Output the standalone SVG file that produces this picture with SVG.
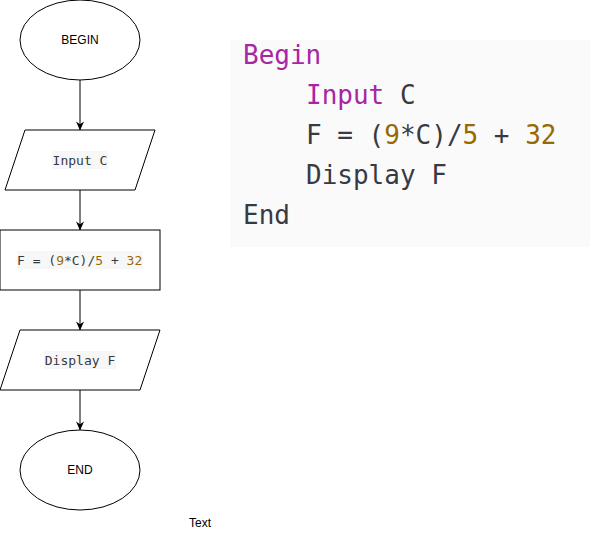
<svg xmlns="http://www.w3.org/2000/svg" width="592" height="556" viewBox="0 0 592 556">
<style>
.shape{fill:#fff;stroke:#000;stroke-width:1}
.lbl{font-family:"Liberation Sans",Arial,sans-serif;font-size:12px;fill:#000;text-anchor:middle}
.mono{font-family:"DejaVu Sans Mono",monospace;font-size:13px;fill:#383a42}
.code{font-family:"DejaVu Sans Mono",monospace;font-size:26px;fill:#383a42}
.kw{fill:#a626a4}
.num{fill:#986801}
.hl{fill:#f7f7f7}
.edge{stroke:#000;stroke-width:1;fill:none}
</style>
<defs>
<marker id="arr" viewBox="0 0 10 10" refX="9.5" refY="5" markerWidth="9" markerHeight="9" orient="auto" markerUnits="userSpaceOnUse">
<path d="M0,0.5 L10,5 L0,9.5 L3,5 Z" fill="#000"/>
</marker>
</defs>
<g id="connectors">
<line class="edge" x1="80" y1="80" x2="80" y2="130" marker-end="url(#arr)"/>
<line class="edge" x1="80" y1="190" x2="80" y2="230" marker-end="url(#arr)"/>
<line class="edge" x1="80" y1="290" x2="80" y2="330" marker-end="url(#arr)"/>
<line class="edge" x1="80" y1="390" x2="80" y2="430" marker-end="url(#arr)"/>
</g>
<g id="begin">
<ellipse class="shape" cx="80" cy="40" rx="60" ry="40"/>
<text class="lbl" x="80" y="44">BEGIN</text>
</g>
<g id="input">
<polygon class="shape" points="25,130 155,130 135,190 5,190"/>
<rect class="hl" x="52" y="151" width="56" height="18"/>
<text class="mono" x="80" y="165" text-anchor="middle">Input C</text>
</g>
<g id="process">
<rect class="shape" x="0" y="230" width="160" height="60"/>
<rect class="hl" x="17" y="251" width="126" height="18"/>
<text class="mono" x="17" y="265">F = (<tspan class="num">9</tspan>*C)/<tspan class="num">5</tspan> + <tspan class="num">32</tspan></text>
</g>
<g id="display">
<polygon class="shape" points="20,330 160,330 140,390 0,390"/>
<rect class="hl" x="44" y="351" width="72" height="18"/>
<text class="mono" x="80" y="365" text-anchor="middle">Display F</text>
</g>
<g id="end">
<ellipse class="shape" cx="80" cy="470" rx="60" ry="40"/>
<text class="lbl" x="80" y="474">END</text>
</g>
<g id="text">
<text class="lbl" x="200" y="527">Text</text>
</g>
<g id="code">
<rect x="230" y="40" width="360" height="207" fill="#fafafa"/>
<text class="code" x="243" y="64"><tspan class="kw">Begin</tspan></text>
<text class="code" x="306" y="104"><tspan class="kw">Input</tspan> C</text>
<text class="code" x="306" y="144">F = (<tspan class="num">9</tspan>*C)/<tspan class="num">5</tspan> + <tspan class="num">32</tspan></text>
<text class="code" x="306" y="184">Display F</text>
<text class="code" x="243" y="224">End</text>
</g>
</svg>
